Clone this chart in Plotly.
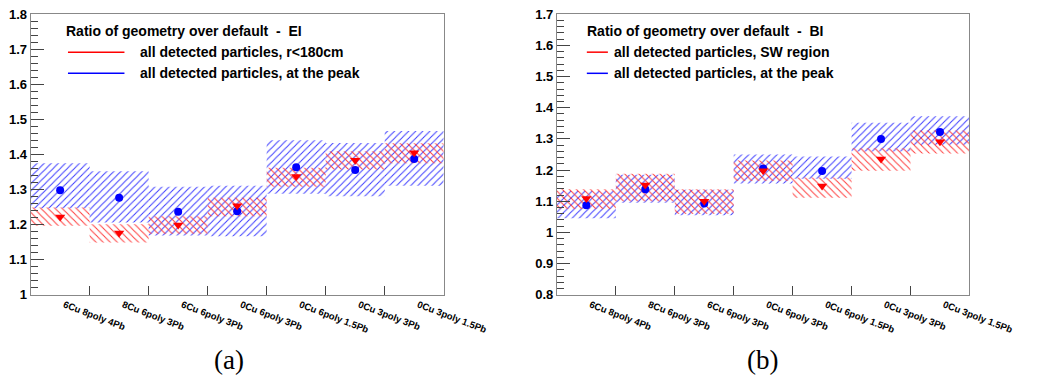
import plotly.graph_objects as go

labels = ["6Cu 8poly 4Pb", "8Cu 6poly 3Pb", "6Cu 6poly 3Pb", "0Cu 6poly 3Pb",
          "0Cu 6poly 1.5Pb", "0Cu 3poly 3Pb", "0Cu 3poly 1.5Pb"]

# Panel (a) - EI
a_blue = [1.298, 1.277, 1.237, 1.238, 1.364, 1.356, 1.387]
a_blue_lo = [1.247, 1.206, 1.169, 1.167, 1.288, 1.281, 1.311]
a_blue_hi = [1.375, 1.352, 1.308, 1.311, 1.441, 1.433, 1.467]
a_red = [1.222, 1.176, 1.199, 1.254, 1.337, 1.384, 1.405]
a_red_lo = [1.197, 1.149, 1.174, 1.224, 1.308, 1.357, 1.375]
a_red_hi = [1.249, 1.201, 1.224, 1.277, 1.362, 1.409, 1.432]

# Panel (b) - BI
b_blue = [1.087, 1.139, 1.093, 1.205, 1.197, 1.300, 1.322]
b_blue_lo = [1.046, 1.095, 1.055, 1.157, 1.172, 1.260, 1.281]
b_blue_hi = [1.133, 1.185, 1.137, 1.250, 1.244, 1.352, 1.373]
b_red = [1.109, 1.152, 1.100, 1.198, 1.149, 1.236, 1.291]
b_red_lo = [1.075, 1.100, 1.060, 1.165, 1.111, 1.198, 1.253]
b_red_hi = [1.139, 1.188, 1.139, 1.231, 1.176, 1.270, 1.327]

BLUE = "#0000ff"
RED = "#ff0000"

fig = go.Figure()


def add_panel(xa, ya, blue, blo, bhi, red, rlo, rhi):
    fig.add_trace(go.Bar(
        x=labels, y=[h - l for h, l in zip(bhi, blo)], base=blo, width=1,
        marker=dict(color=BLUE, line=dict(width=0),
                    pattern=dict(shape="/", fgcolor="#3c3cff", bgcolor="rgba(0,0,0,0)",
                                 size=5, solidity=0.2, fillmode="replace")),
        xaxis=xa, yaxis=ya, showlegend=False, hoverinfo="skip"))
    fig.add_trace(go.Bar(
        x=labels, y=[h - l for h, l in zip(rhi, rlo)], base=rlo, width=1,
        marker=dict(color=RED, line=dict(width=0),
                    pattern=dict(shape="\\", fgcolor="#ff3c3c", bgcolor="rgba(0,0,0,0)",
                                 size=5, solidity=0.2, fillmode="replace")),
        xaxis=xa, yaxis=ya, showlegend=False, hoverinfo="skip"))
    fig.add_trace(go.Scatter(
        x=labels, y=blue, mode="markers",
        marker=dict(symbol="circle", size=8, color=BLUE),
        xaxis=xa, yaxis=ya, showlegend=False))
    fig.add_trace(go.Scatter(
        x=labels, y=red, mode="markers",
        marker=dict(symbol="triangle-down", size=9, color=RED),
        xaxis=xa, yaxis=ya, showlegend=False))


add_panel("x", "y", a_blue, a_blue_lo, a_blue_hi, a_red, a_red_lo, a_red_hi)
add_panel("x2", "y2", b_blue, b_blue_lo, b_blue_hi, b_red, b_red_lo, b_red_hi)

W, H = 1054, 385
ydom = [1 - 299.5 / H, 1 - 7.5 / H]

xcommon = dict(type="category", categoryorder="array", categoryarray=labels,
               range=[-0.5, 6.5], tickson="boundaries", ticks="inside", ticklen=9,
               tickcolor="#444", tickwidth=1, showline=True, linecolor="#888",
               linewidth=1, mirror=True, showgrid=False, tickangle=21,
               ticklabelshift=4,
               tickfont=dict(family="Liberation Sans", size=9.5, color="black", weight="bold"),
               zeroline=False, fixedrange=True)
ycommon = dict(dtick=0.1, ticks="inside", ticklen=13, tickcolor="#444", tickwidth=1,
               showline=True, linecolor="#888", linewidth=1, mirror=True,
               showgrid=False, zeroline=False,
               tickfont=dict(family="Liberation Sans", size=13, color="black", weight="bold"),
               minor=dict(dtick=0.02, ticks="inside", ticklen=7, tickcolor="#444",
                          showgrid=False))

fig.update_layout(
    width=W, height=H, margin=dict(l=0, r=0, t=0, b=0),
    paper_bgcolor="white", plot_bgcolor="white", barmode="overlay",
    xaxis=dict(domain=[32 / W, 463.5 / W], anchor="y", **xcommon),
    yaxis=dict(domain=ydom, anchor="x", range=[1.0, 1.8], **ycommon),
    xaxis2=dict(domain=[581.7 / W, 1012.7 / W], anchor="y2", **xcommon),
    yaxis2=dict(domain=ydom, anchor="x2", range=[0.8, 1.7], **ycommon),
)

lfont = dict(family="Liberation Sans", size=14, color="black", weight="bold")


def py(px):
    return 1 - px / H


def legend(x_title, title, x_line0, x_line1, x_text, red_txt, blue_txt):
    fig.add_annotation(x=x_title / W, y=py(25), xref="paper", yref="paper",
                       text=title, showarrow=False, xanchor="left", yanchor="middle",
                       font=lfont)
    for ypx, col, txt in [(47, RED, red_txt), (69, BLUE, blue_txt)]:
        fig.add_shape(type="line", xref="paper", yref="paper",
                      x0=x_line0 / W, x1=x_line1 / W, y0=py(ypx), y1=py(ypx),
                      line=dict(color=col, width=1.5))
        fig.add_annotation(x=x_text / W, y=py(ypx), xref="paper", yref="paper",
                           text=txt, showarrow=False, xanchor="left", yanchor="middle",
                           font=lfont)


legend(67, "Ratio of geometry over default &nbsp;-&nbsp; EI", 71, 130, 144,
       "all detected particles, r&lt;180cm", "all detected particles, at the peak")
legend(611, "Ratio of geometry over default &nbsp;-&nbsp; BI", 613, 635, 639,
       "all detected particles, SW region", "all detected particles, at the peak")

cfont = dict(family="Liberation Serif", size=27, color="black")
fig.add_annotation(x=239 / W, y=py(367), xref="paper", yref="paper", text="(a)",
                   showarrow=False, xanchor="center", yanchor="middle", font=cfont)
fig.add_annotation(x=796 / W, y=py(367), xref="paper", yref="paper", text="(b)",
                   showarrow=False, xanchor="center", yanchor="middle", font=cfont)

fig.write_html("out.html")
